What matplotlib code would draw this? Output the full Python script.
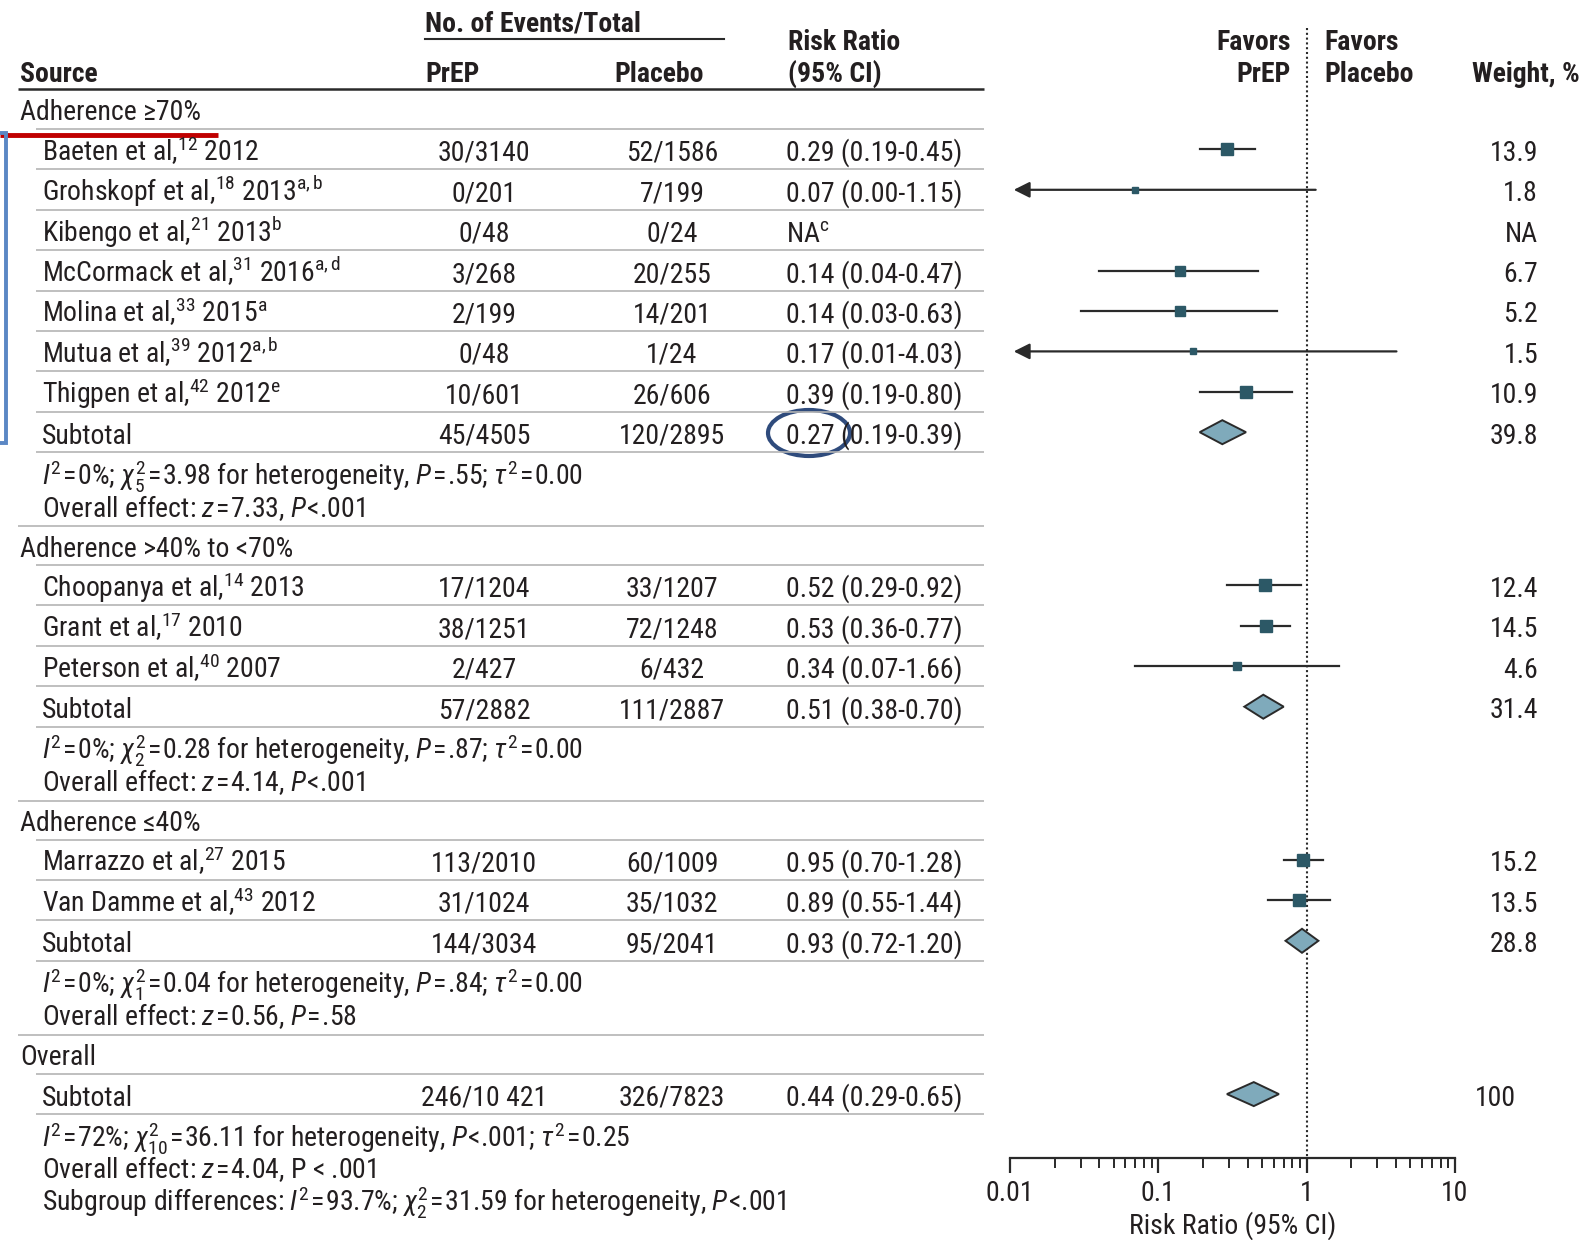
import numpy as np
import matplotlib.pyplot as plt
from matplotlib import font_manager
from matplotlib.patches import Polygon, Ellipse
from matplotlib.ticker import LogLocator, NullFormatter

# pick a narrow font if we have one
names = {f.name for f in font_manager.fontManager.ttflist}
base = next((f for f in ['Liberation Sans Narrow', 'Roboto Condensed', 'DejaVu Sans']
             if f in names), 'DejaVu Sans')
plt.rcParams['font.family'] = [base, 'DejaVu Sans']
plt.rcParams['mathtext.fontset'] = 'custom'
plt.rcParams['mathtext.rm'] = base
plt.rcParams['mathtext.it'] = base + ':italic'
plt.rcParams['mathtext.bf'] = base + ':bold'

# ---- data ----
group_labels = ['Adherence ≥70%', 'Adherence >40% to <70%', 'Adherence ≤40%', 'Overall']
study_group = [0, 0, 0, 0, 0, 0, 0, 1, 1, 1, 2, 2]
study_names = [r'Baeten et al,$^{12}$ 2012',
               r'Grohskopf et al,$^{18}$ 2013$^{\mathrm{a,b}}$',
               r'Kibengo et al,$^{21}$ 2013$^{\mathrm{b}}$',
               r'McCormack et al,$^{31}$ 2016$^{\mathrm{a,d}}$',
               r'Molina et al,$^{33}$ 2015$^{\mathrm{a}}$',
               r'Mutua et al,$^{39}$ 2012$^{\mathrm{a,b}}$',
               r'Thigpen et al,$^{42}$ 2012$^{\mathrm{e}}$',
               r'Choopanya et al,$^{14}$ 2013',
               r'Grant et al,$^{17}$ 2010',
               r'Peterson et al,$^{40}$ 2007',
               r'Marrazzo et al,$^{27}$ 2015',
               r'Van Damme et al,$^{43}$ 2012']
prep_events = ['30/3140', '0/201', '0/48', '3/268', '2/199', '0/48', '10/601',
               '17/1204', '38/1251', '2/427', '113/2010', '31/1024']
placebo_events = ['52/1586', '7/199', '0/24', '20/255', '14/201', '1/24', '26/606',
                  '33/1207', '72/1248', '6/432', '60/1009', '35/1032']
rr = [0.29, 0.07, np.nan, 0.14, 0.14, 0.17, 0.39, 0.52, 0.53, 0.34, 0.95, 0.89]
rr_lo = [0.19, 0.00, np.nan, 0.04, 0.03, 0.01, 0.19, 0.29, 0.36, 0.07, 0.70, 0.55]
rr_hi = [0.45, 1.15, np.nan, 0.47, 0.63, 4.03, 0.80, 0.92, 0.77, 1.66, 1.28, 1.44]
weights = ['13.9', '1.8', 'NA', '6.7', '5.2', '1.5', '10.9', '12.4', '14.5', '4.6', '15.2', '13.5']

sub_prep = ['45/4505', '57/2882', '144/3034', '246/10 421']
sub_placebo = ['120/2895', '111/2887', '95/2041', '326/7823']
sub_rr = [0.27, 0.51, 0.93, 0.44]
sub_lo = [0.19, 0.38, 0.72, 0.29]
sub_hi = [0.39, 0.70, 1.20, 0.65]
sub_weight = ['39.8', '31.4', '28.8', '100']
stats = [
    [r'$I^2$=0%; $\chi^2_5$=3.98 for heterogeneity, $P$=.55; $\tau^2$=0.00',
     r'Overall effect: $z$=7.33, $P$<.001'],
    [r'$I^2$=0%; $\chi^2_2$=0.28 for heterogeneity, $P$=.87; $\tau^2$=0.00',
     r'Overall effect: $z$=4.14, $P$<.001'],
    [r'$I^2$=0%; $\chi^2_1$=0.04 for heterogeneity, $P$=.84; $\tau^2$=0.00',
     r'Overall effect: $z$=0.56, $P$=.58'],
    [r'$I^2$=72%; $\chi^2_{10}$=36.11 for heterogeneity, $P$<.001; $\tau^2$=0.25',
     r'Overall effect: $z$=4.04, P < .001',
     r'Subgroup differences: $I^2$=93.7%; $\chi^2_2$=31.59 for heterogeneity, $P$<.001'],
]

# ---- style ----
W, H = 1585, 1240
FS = 20
TXT = '#231f20'
DARK = '#2a2a2a'
GRID = '#b4b4b4'
SQ = '#2c5866'
DIA = '#7faabb'
BASE = 11.5         # px from row centre to baseline
HAIR = r'$\hspace{0.08}$'

fig = plt.figure(figsize=(W / 100, H / 100), dpi=100)
ax = fig.add_axes([0, 0, 1, 1])
ax.set_xlim(0, W)
ax.set_ylim(H, 0)
ax.axis('off')

X0, X1 = 1010, 1455
fax = fig.add_axes([X0 / W, 0, (X1 - X0) / W, 1])
fax.set_xscale('log')
fax.set_xlim(0.01, 10)
fax.set_ylim(H, 0)
fax.patch.set_visible(False)
for s in ['left', 'right', 'top']:
    fax.spines[s].set_visible(False)
AXIS_Y = 1158
fax.spines['bottom'].set_position(('data', AXIS_Y))
fax.spines['bottom'].set_linewidth(1.6)
fax.spines['bottom'].set_color(DARK)
fax.set_yticks([])
fax.set_xticks([0.01, 0.1, 1, 10], ['0.01', '0.1', '1', '10'])
fax.xaxis.set_minor_locator(LogLocator(base=10, subs=range(2, 10)))
fax.xaxis.set_minor_formatter(NullFormatter())
fax.tick_params(axis='x', which='major', length=11, width=1.6, color=DARK,
                labelsize=FS, labelcolor=TXT, pad=5)
fax.tick_params(axis='x', which='minor', length=7, width=1.4, color=DARK)
fax.set_xlabel('Risk Ratio (95% CI)', fontsize=FS, color=TXT, labelpad=3)


def put(x, y, s, ha='left', **kw):
    ax.text(x, y + BASE, s, ha=ha, va='baseline', fontsize=FS, color=TXT, **kw)


def hline(y, x0=36, x1=984, color=GRID, lw=1.2):
    ax.plot([x0, x1], [y, y], color=color, lw=lw, solid_capstyle='butt')


def put_weight(y, s):
    if '.' in s or s == 'NA':
        put(1538, y, s, ha='right')
    else:
        put(1516, y, s, ha='right')


def study_mark(y, est, lo, hi, w):
    if lo <= 0.01:
        fax.annotate('', xy=(0.0106, y), xytext=(hi, y),
                     arrowprops=dict(arrowstyle='-|>', color=DARK, lw=1.6,
                                     mutation_scale=24, shrinkA=0, shrinkB=0))
    else:
        fax.plot([lo, hi], [y, y], color=DARK, lw=1.6, zorder=3)
    side = 4 + 2.2 * np.sqrt(w)
    fax.plot(est, y, 's', ms=side * 0.72, color=SQ, mec=SQ, zorder=4)


def diamond(y, est, lo, hi):
    fax.add_patch(Polygon([(lo, y), (est, y - 12), (hi, y), (est, y + 12)],
                          closed=True, fc=DIA, ec=DARK, lw=1.4, zorder=4))


# ---- header ----
put(425, 20, 'No. of Events/Total', weight='bold')
ax.plot([425, 724], [38.5, 38.5], color=DARK, lw=1.5)
put(20, 70, 'Source', weight='bold')
put(425, 70, 'PrEP', weight='bold')
put(614, 70, 'Placebo', weight='bold')
put(788, 38.5, 'Risk Ratio', weight='bold')
put(788, 70, '(95% CI)', weight='bold')
put(1291, 38.5, 'Favors', ha='right', weight='bold')
put(1291, 70, 'PrEP', ha='right', weight='bold')
put(1324, 38.5, 'Favors', weight='bold')
put(1324, 70, 'Placebo', weight='bold')
put(1580, 70, 'Weight, %', ha='right', weight='bold')
hline(89, 18, 984, DARK, 1.8)

# ---- rows ----
P, S = 40.4, 32.5
PREP_X, PLAC_X, RR_X = 484, 672, 786
y = 109
for g, label in enumerate(group_labels):
    put(20, y, label)
    hline(y + 20)
    for i in [k for k, gg in enumerate(study_group) if gg == g]:
        y += P
        put(41.5, y, study_names[i])
        put(PREP_X, y, prep_events[i], ha='center')
        put(PLAC_X, y, placebo_events[i], ha='center')
        if np.isnan(rr[i]):
            put(RR_X, y, r'NA$^{\mathrm{c}}$')
        else:
            put(RR_X, y, f'{rr[i]:.2f} ({rr_lo[i]:.2f}-{rr_hi[i]:.2f})')
            study_mark(y, rr[i], rr_lo[i], rr_hi[i], float(weights[i]))
        put_weight(y, weights[i])
        hline(y + 20)
    y += P
    put(41.5, y, 'Subtotal')
    put(PREP_X, y, sub_prep[g], ha='center')
    put(PLAC_X, y, sub_placebo[g], ha='center')
    put(RR_X, y, f'{sub_rr[g]:.2f} ({sub_lo[g]:.2f}-{sub_hi[g]:.2f})')
    diamond(y, sub_rr[g], sub_lo[g], sub_hi[g])
    put_weight(y, sub_weight[g])
    hline(y + 20)
    y += P
    for j, line in enumerate(stats[g]):
        line = line.replace('=', HAIR + '=' + HAIR).replace('$<', '$' + HAIR + '<')
        put(41.5, y + j * S, line)
    y += (len(stats[g]) - 1) * S
    if g < len(group_labels) - 1:
        hline(y + 21, 18)
        y += 40

# line of no effect
fax.plot([1, 1], [28, AXIS_Y], color=DARK, lw=1.5, ls=(0, (1, 1.3)), zorder=2)

# ---- annotations added on top of the figure ----
ax.plot([0, 218], [135, 135], color='#c00000', lw=3.5, solid_capstyle='butt')
ax.plot([0, 6, 6, 0], [133, 133, 443, 443], color='#5b87c4', lw=2.8,
        solid_joinstyle='miter')
ax.add_patch(Ellipse((809, 433), 82, 46, fill=False, ec='#2f4b7c', lw=3.0))

fig.savefig('out.png', dpi=100)
